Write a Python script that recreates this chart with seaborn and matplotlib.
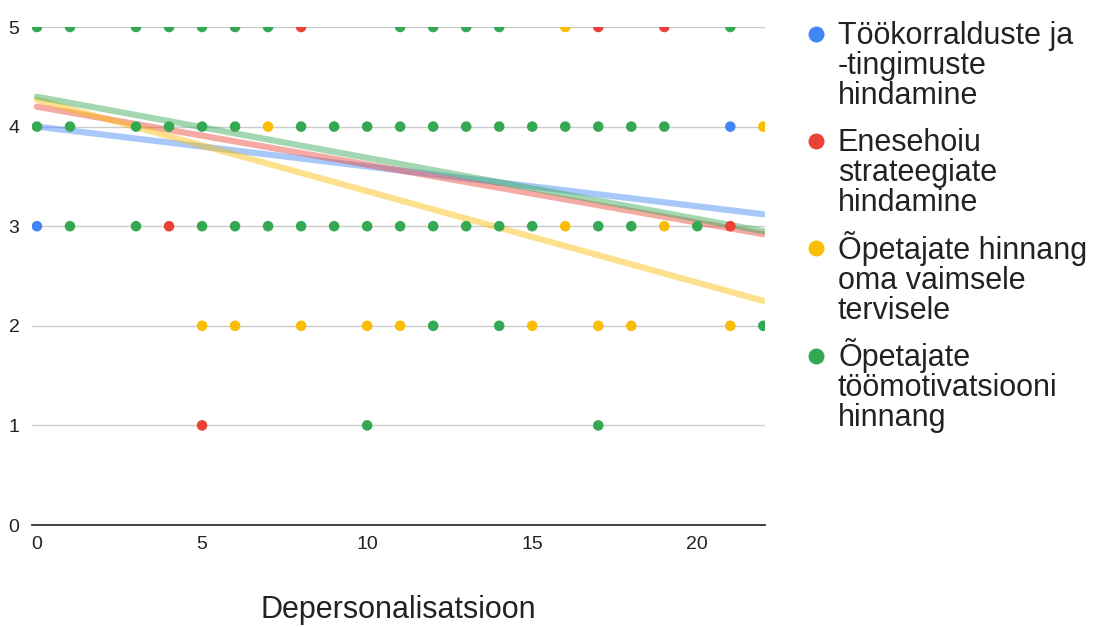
import matplotlib
matplotlib.use("Agg")
import matplotlib.pyplot as plt
from matplotlib.lines import Line2D
import seaborn as sns
import pandas as pd

# ---- data ----
series_names = [
    "Töökorralduste ja\n-tingimuste\nhindamine",
    "Enesehoiu\nstrateegiate\nhindamine",
    "Õpetajate hinnang\noma vaimsele\ntervisele",
    "Õpetajate\ntöömotivatsiooni\nhinnang",
]
colors = ["#4285F4", "#EA4335", "#FBBC04", "#34A853"]

blue_x = [0, 21]
blue_y = [3, 4]

red_x = [8, 17, 19, 4, 21, 5]
red_y = [5, 5, 5, 3, 3, 1]

yellow_x = [16, 7, 22, 16, 19, 5, 6, 8, 10, 11, 15, 17, 18, 21]
yellow_y = [5, 4, 4, 3, 3, 2, 2, 2, 2, 2, 2, 2, 2, 2]

green_x = [0, 1, 3, 4, 5, 6, 7, 11, 12, 13, 14, 21,
           0, 1, 3, 4, 5, 6, 8, 9, 10, 11, 12, 13, 14, 15, 16, 17, 18, 19,
           1, 3, 5, 6, 7, 8, 9, 10, 11, 12, 13, 14, 15, 17, 18, 20,
           12, 14, 22,
           10, 17]
green_y = [5] * 12 + [4] * 18 + [3] * 16 + [2] * 3 + [1] * 2

# trendlines: value at x=0 and at x=22
trend_x = [0, 22]
trend_start = [4.00, 4.20, 4.27, 4.30]
trend_end = [3.12, 2.92, 2.25, 2.95]

x_ticks = [0, 5, 10, 15, 20]
y_ticks = [0, 1, 2, 3, 4, 5]
x_title = "Depersonalisatsioon"

# ---- frames ----
xs = [blue_x, red_x, yellow_x, green_x]
ys = [blue_y, red_y, yellow_y, green_y]
rows = []
for name, sx, sy in zip(series_names, xs, ys):
    for a, b in zip(sx, sy):
        rows.append({"x": a, "y": b, "series": name})
points = pd.DataFrame(rows)

trows = []
for name, s0, s1 in zip(series_names, trend_start, trend_end):
    trows.append({"x": trend_x[0], "y": s0, "series": name})
    trows.append({"x": trend_x[1], "y": s1, "series": name})
trends = pd.DataFrame(trows)

palette = dict(zip(series_names, colors))

# ---- plot ----
sns.set_theme(style="white")
plt.rcParams["font.family"] = ["Liberation Sans", "DejaVu Sans"]

W, H = 1094, 627
fig = plt.figure(figsize=(W / 100, H / 100), dpi=100)
ax = fig.add_axes([32 / W, 1 - 525 / H, (765 - 32) / W, (525 - 27) / H])

for yv in y_ticks[1:]:
    ax.axhline(yv, color="#cccccc", lw=1.0, zorder=0)

sns.lineplot(data=trends, x="x", y="y", hue="series", palette=palette,
             linewidth=4.5, alpha=0.45, legend=False, ax=ax, zorder=1)
sns.scatterplot(data=points, x="x", y="y", hue="series", palette=palette,
                s=58, linewidth=0, ax=ax, zorder=3, legend=False)

ax.set_xlim(-0.15, 22.05)
ax.set_ylim(0, 5)
ax.set_xticks(x_ticks)
ax.set_yticks(y_ticks)
ax.tick_params(axis="both", length=0, labelsize=14, colors="#222222")
ax.tick_params(axis="x", pad=8)
ax.tick_params(axis="y", pad=9)
for s in ["top", "right", "left"]:
    ax.spines[s].set_visible(False)
ax.spines["bottom"].set_color("#333333")
ax.spines["bottom"].set_linewidth(1.3)
ax.spines["bottom"].set_zorder(4)

ax.set_xlabel(x_title, fontsize=22, color="#222222")
ax.xaxis.set_label_coords(0.5, -0.14)
ax.set_ylabel("")

# ---- legend (marker aligned with first line of each label) ----
first_baselines = [43, 150, 258, 365]
line_step = 30.5
for name, col, yb in zip(series_names, colors, first_baselines):
    n_lines = name.count("\n") + 1
    last_base = yb + (n_lines - 1) * line_step
    fig.text(838 / W, 1 - last_base / H, name, fontsize=22, color="#222222",
             va="baseline", ha="left", linespacing=1.0)
    fig.add_artist(Line2D([816 / W], [1 - (yb - 9.5) / H], marker="o",
                          markersize=11.5, color=col, linestyle="none",
                          markeredgewidth=0, transform=fig.transFigure))

fig.savefig("out.png", dpi=100)
